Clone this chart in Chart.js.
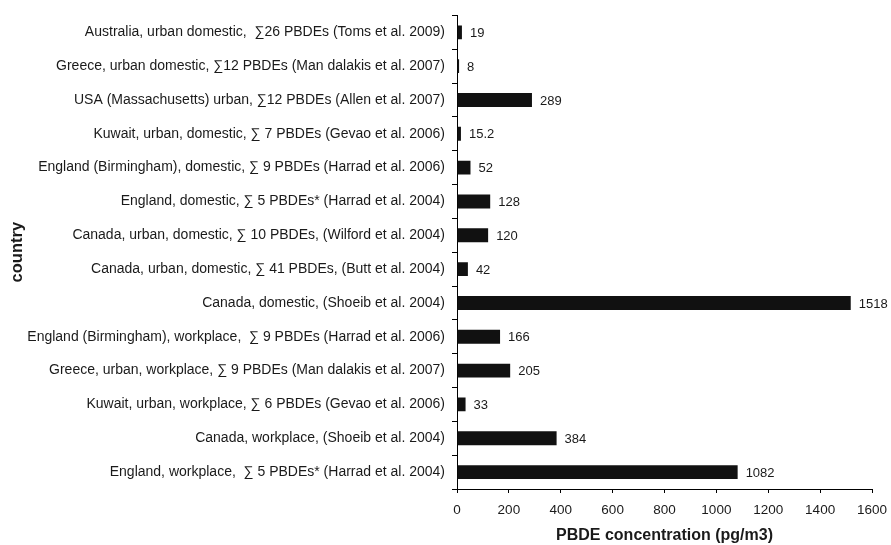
<!DOCTYPE html>
<html>
<head>
<meta charset="utf-8">
<script src="https://cdn.jsdelivr.net/npm/chart.js@4"></script>
<style>
  html, body { margin: 0; padding: 0; background: #fff; }
  #wrap { width: 891px; height: 545px; }
</style>
</head>
<body>
<div id="wrap"><canvas id="myChart" width="891" height="545"></canvas></div>
<script>
// Data
const studies = [
    'Australia, urban domestic,  \u221126 PBDEs (Toms et al. 2009)',
    'Greece, urban domestic, \u221112 PBDEs (Man dalakis et al. 2007)',
    'USA (Massachusetts) urban, \u221112 PBDEs (Allen et al. 2007)',
    'Kuwait, urban, domestic, \u2211 7 PBDEs (Gevao et al. 2006)',
    'England (Birmingham), domestic, \u2211 9 PBDEs (Harrad et al. 2006)',
    'England, domestic, \u2211 5 PBDEs* (Harrad et al. 2004)',
    'Canada, urban, domestic, \u2211 10 PBDEs, (Wilford et al. 2004)',
    'Canada, urban, domestic, \u2211 41 PBDEs, (Butt et al. 2004)',
    'Canada, domestic, (Shoeib et al. 2004)',
    'England (Birmingham), workplace,  \u2211 9 PBDEs (Harrad et al. 2006)',
    'Greece, urban, workplace, \u2211 9 PBDEs (Man dalakis et al. 2007)',
    'Kuwait, urban, workplace, \u2211 6 PBDEs (Gevao et al. 2006)',
    'Canada, workplace, (Shoeib et al. 2004)',
    'England, workplace,  \u2211 5 PBDEs* (Harrad et al. 2004)'
];
const concentrations = [19, 8, 289, 15.2, 52, 128, 120, 42, 1518, 166, 205, 33, 384, 1082];
const valueLabels = ['19', '8', '289', '15.2', '52', '128', '120', '42', '1518', '166', '205', '33', '384', '1082'];

const FONT = '"Liberation Sans", Arial, sans-serif';
const INK = '#1a1a1a';

// value labels to the right of each bar
const barLabels = {
    id: 'barLabels',
    afterDatasetsDraw(chart) {
        const ctx = chart.ctx;
        const meta = chart.getDatasetMeta(0);
        ctx.save();
        ctx.font = '13px ' + FONT;
        ctx.fillStyle = INK;
        ctx.textAlign = 'left';
        ctx.textBaseline = 'middle';
        meta.data.forEach((bar, i) => {
            ctx.fillText(valueLabels[i], bar.x + 8, bar.y + 1);
        });
        ctx.restore();
    }
};

new Chart(document.getElementById('myChart'), {
    type: 'bar',
    data: {
        labels: studies,
        datasets: [{
            data: concentrations,
            backgroundColor: '#111111',
            borderWidth: 0,
            barPercentage: 0.41,
            categoryPercentage: 1.0
        }]
    },
    options: {
        indexAxis: 'y',
        responsive: false,
        animation: false,
        plugins: {
            legend: { display: false },
            tooltip: { enabled: false }
        },
        layout: {
            padding: { top: 13, right: 19, left: 0, bottom: 0 }
        },
        scales: {
            x: {
                min: 0,
                max: 1600,
                afterFit(scale) {
                    scale.height = 56;
                    scale.paddingLeft = 0;
                    scale.paddingRight = 0;
                },
                border: { display: true, color: '#000', width: 1 },
                grid: { display: true, drawOnChartArea: false, color: '#000', tickLength: 4 },
                ticks: {
                    stepSize: 200,
                    color: INK,
                    padding: 9,
                    font: { family: FONT, size: 13.5 },
                    callback: (v) => String(v)
                },
                title: {
                    display: true,
                    text: 'PBDE concentration (pg/m3)',
                    color: INK,
                    font: { family: FONT, size: 16, weight: 'bold' },
                    padding: { top: 0, bottom: 0 }
                }
            },
            y: {
                afterFit(scale) { scale.width = 457; },
                border: { display: true, color: '#000', width: 1 },
                grid: { display: true, drawOnChartArea: false, color: '#000', tickLength: 5, offset: true },
                ticks: {
                    color: INK,
                    padding: 7,
                    autoSkip: false,
                    font: { family: FONT, size: 14 }
                },
                title: {
                    display: true,
                    text: 'country',
                    color: INK,
                    font: { family: FONT, size: 16.5, weight: 'bold' },
                    padding: { top: 8, bottom: 0 }
                }
            }
        }
    },
    plugins: [barLabels]
});
</script>
</body>
</html>
